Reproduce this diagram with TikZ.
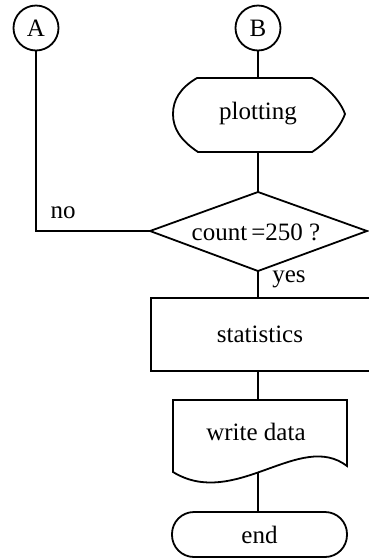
\documentclass[tikz,border=0pt]{standalone}
\usepackage{fontspec}
\setmainfont{Liberation Serif}
\begin{document}
\begin{tikzpicture}[x=1pt,y=-1pt,line width=1.8pt,
  every node/.style={font=\fontsize{25}{27}\selectfont},
  conn/.style={draw, circle, minimum size=45pt, inner sep=0pt},
  box/.style={draw, minimum width=220pt, minimum height=73pt, anchor=north west},
  term/.style={draw, rounded corners=22pt, minimum width=175pt, minimum height=45pt},
  lbl/.style={inner sep=0pt}]
\useasboundingbox (0,0) rectangle (368,558);
% connectors A, B
\node[conn] (A) at (36,28) {A};
\node[conn] (B) at (258,28) {B};
% plotting (display shape)
\coordinate (ptop) at (258,78);
\coordinate (pbot) at (258,152);
\draw (197,78) -- (312,78) .. controls (326,86) and (340,100) .. (345,114)
      .. controls (340,128) and (326,143) .. (312,152) -- (198,152)
      .. controls (180,140) and (173,128) .. (173,114)
      .. controls (173,100) and (180,88) .. cycle;
\node (plot) at (258,114) {plotting};
% diamond
\coordinate (dtop) at (258,192);
\coordinate (dleft) at (150,231);
\coordinate (dright) at (367,231);
\coordinate (dbot) at (258,271);
\draw (dtop) -- (dright) -- (dbot) -- (dleft) -- cycle;
\node (dtext) at (256,232) {count\,=250 ?};
% statistics
\node[box] (stat) at (150,297) {};
\node (stattext) at (260,334) {statistics};
% write data (document shape)
\coordinate (wtop) at (258,400);
\coordinate (wbot) at (258,473);
\draw (173,400) -- (347,400) -- (347,466)
      .. controls (300,430) and (235,510) .. (173,472) -- cycle;
\node (wtext) at (256,432) {write data};
% end
\node[term] (end) at (259.5,534.5) {end};
% labels
\node[lbl] (no) at (63,213) {no};
\node[lbl] (yes) at (289,279) {yes};
% connecting lines
\draw (A) |- (dleft);
\draw (B) -- (ptop);
\draw (pbot) -- (dtop);
\draw (dbot) -- (dbot |- stat.north);
\draw (stat.south -| wtop) -- (wtop);
\draw (wbot) -- (wbot |- end.north);
\end{tikzpicture}
\end{document}
